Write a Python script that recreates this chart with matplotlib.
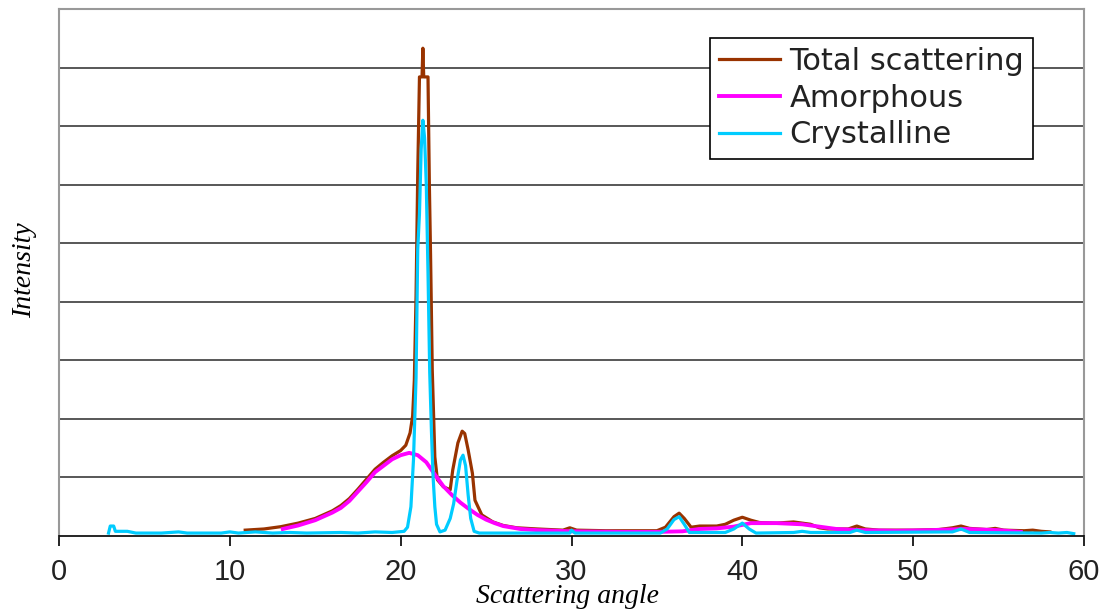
import numpy as np
import matplotlib
matplotlib.use("Agg")
import matplotlib.pyplot as plt

# data (y in grid units, 9 grid steps to the top)
cryst_x = [2.9, 3.0, 3.2, 3.3, 4.0, 4.5, 6.0, 7.0, 7.5, 9.5, 10.0, 10.5, 11.5, 12.5,
           13.5, 14.5, 16.5, 17.5, 18.5, 19.5, 20.2, 20.4, 20.6, 20.75, 20.9, 21.0,
           21.1, 21.2, 21.3, 21.4, 21.5, 21.6, 21.7, 21.8, 21.9, 22.0, 22.1, 22.3,
           22.6, 22.9, 23.1, 23.3, 23.5, 23.65, 23.8, 23.95, 24.1, 24.3, 24.6, 29.9,
           30.0, 30.2, 35.2, 35.6, 36.0, 36.3, 36.6, 36.9, 39.0, 39.5, 40.0, 40.4,
           40.8, 43.0, 43.5, 44.0, 46.3, 46.7, 47.2, 52.3, 52.8, 53.3, 57.5, 58.0,
           58.5, 59.0, 59.4]
cryst_y = [0.05, 0.17, 0.17, 0.08, 0.08, 0.05, 0.05, 0.07, 0.05, 0.05, 0.07, 0.05, 0.07, 0.05,
           0.06, 0.05, 0.06, 0.05, 0.07, 0.06, 0.08, 0.15, 0.5, 1.3, 2.7, 4.9,
           5.5, 6.6, 7.1, 6.8, 6.0, 4.5, 2.8, 1.8, 1.0, 0.5, 0.2, 0.07,
           0.1, 0.3, 0.55, 0.95, 1.3, 1.38, 1.2, 0.7, 0.3, 0.08, 0.05, 0.05,
           0.1, 0.05, 0.05, 0.12, 0.28, 0.33, 0.2, 0.06, 0.06, 0.12, 0.22, 0.12,
           0.05, 0.06, 0.08, 0.06, 0.06, 0.1, 0.06, 0.07, 0.12, 0.06, 0.05, 0.06,
           0.05, 0.06, 0.04]

amorph_x = [13.1, 14.0, 15.0, 16.0, 16.5, 17.0, 17.5, 18.0, 18.5, 19.0, 19.5, 20.0,
            20.5, 21.0, 21.5, 22.0, 22.5, 23.0, 23.5, 24.0, 24.5, 25.0, 25.5, 26.0,
            27.0, 28.0, 30.0, 33.0, 35.0, 36.5, 37.5, 38.5, 39.5, 40.5, 42.0, 43.5,
            44.5, 45.5, 47.0, 49.0, 51.0, 53.0, 55.0, 56.3]
amorph_y = [0.12, 0.18, 0.27, 0.4, 0.48, 0.6, 0.76, 0.92, 1.09, 1.2, 1.31, 1.38,
            1.42, 1.38, 1.26, 1.05, 0.85, 0.7, 0.57, 0.46, 0.36, 0.28, 0.22, 0.17,
            0.12, 0.1, 0.08, 0.07, 0.07, 0.08, 0.12, 0.13, 0.16, 0.22, 0.22, 0.2,
            0.16, 0.12, 0.1, 0.09, 0.1, 0.12, 0.1, 0.07]

total_x = [10.9, 12.0, 13.0, 14.0, 15.0, 16.0, 16.5, 17.0, 17.5, 18.0, 18.5, 19.0,
           19.5, 20.0, 20.3, 20.55, 20.7, 20.8, 20.9, 21.0, 21.1, 21.25, 21.3, 21.35,
           21.6, 21.68, 21.75, 21.85, 22.0, 22.15, 22.5, 22.9, 23.05, 23.35, 23.6,
           23.75, 23.95, 24.2, 24.35, 24.75, 25.4, 26.0, 26.8, 28.0, 29.5, 29.9,
           30.3, 32.0, 35.0, 35.5, 36.0, 36.3, 36.6, 37.0, 37.5, 38.5, 39.0, 39.5,
           40.0, 40.5, 41.0, 42.0, 43.0, 44.0, 44.5, 45.0, 46.2, 46.7, 47.2, 48.0,
           50.0, 51.5, 52.3, 52.8, 53.3, 54.3, 54.8, 55.3, 56.5, 57.0, 57.5, 58.0]
total_y = [0.1, 0.12, 0.16, 0.22, 0.3, 0.43, 0.52, 0.64, 0.8, 0.97, 1.14, 1.26,
           1.37, 1.46, 1.55, 1.76, 2.05, 2.66, 4.1, 6.2, 7.84, 7.84, 8.33, 7.84,
           7.84, 6.0, 4.8, 2.83, 1.35, 0.96, 0.84, 0.79, 1.13, 1.59, 1.79,
           1.75, 1.47, 1.07, 0.61, 0.36, 0.24, 0.18, 0.14, 0.12, 0.1, 0.14,
           0.1, 0.09, 0.09, 0.15, 0.33, 0.39, 0.3, 0.15, 0.17, 0.17, 0.2, 0.27,
           0.32, 0.27, 0.23, 0.22, 0.24, 0.2, 0.14, 0.12, 0.12, 0.17, 0.12, 0.1,
           0.1, 0.11, 0.14, 0.17, 0.13, 0.11, 0.13, 0.1, 0.09, 0.1, 0.08, 0.07]

xticks = [0, 10, 20, 30, 40, 50, 60]

fig = plt.figure(figsize=(11.16, 6.12), dpi=100)
ax = fig.add_axes([59/1116, 1-536/612, 1025/1116, 527/612])

for g in range(1, 9):
    ax.axhline(g, color='#2a2a2a', lw=1.1, zorder=1)

ax.plot(total_x, total_y, color='#993300', lw=2.3, zorder=3, label='Total scattering')
ax.plot(amorph_x, amorph_y, color='#ff00ff', lw=2.8, zorder=4, label='Amorphous')
ax.plot(cryst_x, cryst_y, color='#00ccff', lw=2.3, zorder=5, label='Crystalline')

ax.set_xlim(0, 60)
ax.set_ylim(0, 9)
ax.set_xticks(xticks)
ax.set_yticks([])
ax.tick_params(axis='x', direction='out', length=7, width=1.2, pad=9,
               labelsize=21, labelcolor='#222222')
for lab in ax.get_xticklabels():
    lab.set_fontfamily('Liberation Sans')

for s in ['left', 'top', 'right']:
    ax.spines[s].set_color('#999999')
    ax.spines[s].set_linewidth(1.5)
ax.spines['bottom'].set_color('black')
ax.spines['bottom'].set_linewidth(1.2)
ax.spines['bottom'].set_zorder(6)

fig.text(567/1116, 1-603/612, 'Scattering angle', ha='center', va='baseline',
         fontsize=20, style='italic', family='Liberation Serif')
fig.text(25/1116, 1-270/612, 'Intensity', ha='center', va='center', rotation=90,
         fontsize=20, style='italic', family='Liberation Serif')

leg = ax.legend(loc='upper left', bbox_to_anchor=((710-59)/1025, (536-38)/527),
                frameon=True, fancybox=False, framealpha=1, edgecolor='black',
                prop={'family': 'DejaVu Sans', 'size': 22},
                handlelength=2.0, handletextpad=0.3, labelspacing=0.25,
                borderpad=0.3, borderaxespad=0)
leg.get_frame().set_linewidth(1.2)
for t in leg.get_texts():
    t.set_color('#222222')

fig.savefig('out.png', dpi=100)
